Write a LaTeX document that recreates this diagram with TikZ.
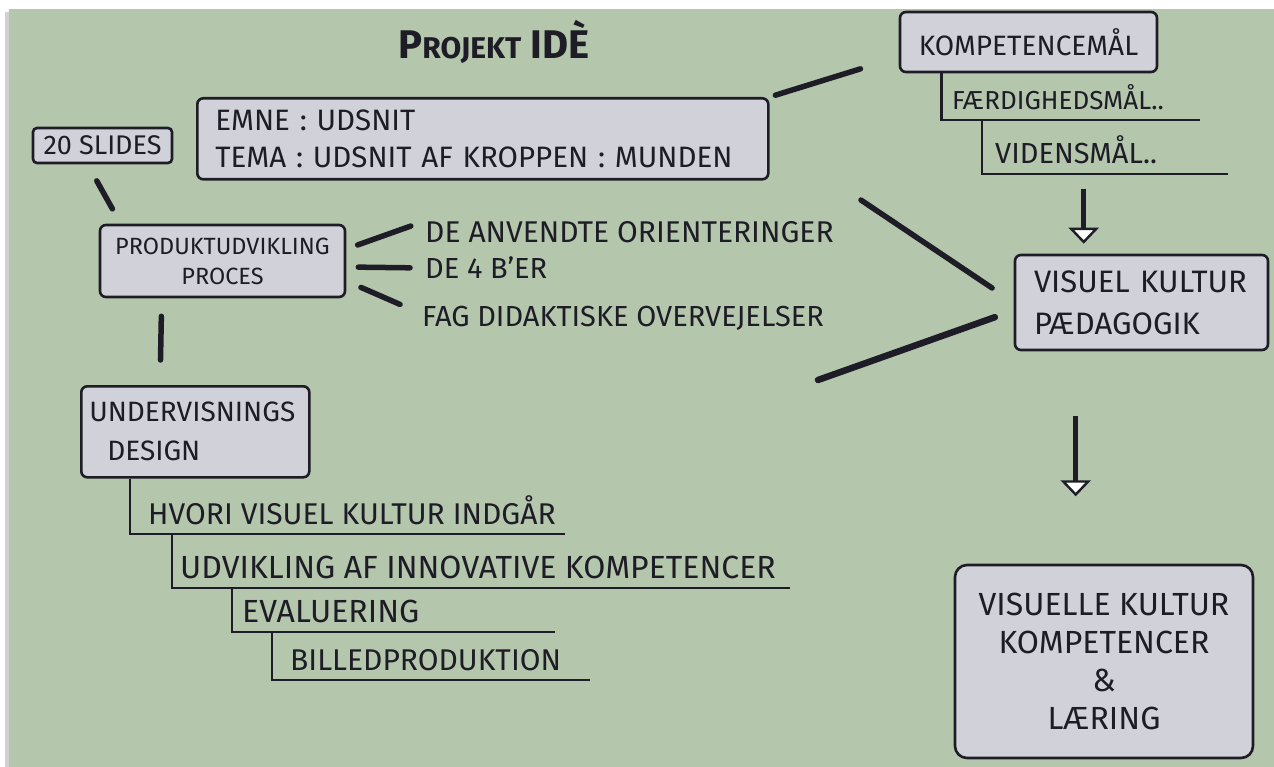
\documentclass[tikz,border=0pt]{standalone}
\usepackage{fontspec}
\setmainfont{Fira Sans}
\usetikzlibrary{arrows.meta}
\definecolor{tavle}{RGB}{180,198,171}
\definecolor{kassegraa}{RGB}{209,209,218}
\definecolor{blaek}{RGB}{30,28,38}
\newcommand{\skrift}{\fontsize{29}{36}\selectfont}
\newcommand{\storskrift}{\fontsize{32}{36}\selectfont}
\tikzset{
  kasse/.style={draw=blaek, fill=kassegraa, line width=2.6pt, rounded corners=6pt,
    text=blaek, font=\skrift},
  tekst/.style={text=blaek, font=\skrift, inner sep=0pt},
  streg/.style={draw=blaek, line width=5.5pt, line cap=round},
  gren/.style={draw=blaek, line width=2.6pt},
  pil/.style={draw=blaek, line width=5pt,
    -{Triangle[width=30pt,length=16pt,fill=white,line width=2.4pt]}}
}

\begin{document}
\begin{tikzpicture}[x=1pt,y=-1pt]
  \useasboundingbox (0,0) rectangle (1274,767);
  % tavlen
  \fill[white] (0,0) rectangle (1274,767);
  \fill[black!18] (5,12) rectangle (9,767);
  \fill[tavle] (9,9) rectangle (1274,767);

  \node[tekst, font=\fontsize{40}{44}\selectfont\bfseries] (titel) at (494,42)
    {P{\fontsize{30}{32}\selectfont ROJEKT} IDÈ};

  % venstre side
  \node[kasse, anchor=north west, minimum width=571pt, minimum height=81pt,
    text width=535pt, inner xsep=18pt, align=left,
    font=\fontsize{29.5}{37}\selectfont] (emne) at (196,97)
    {EMNE : UDSNIT\\TEMA : UDSNIT AF KROPPEN : MUNDEN};
  \node[kasse, minimum width=139pt, minimum height=35pt, inner sep=1pt,
    rounded corners=4pt, font=\fontsize{27}{30}\selectfont] (slides) at (102.5,145.5) {20 SLIDES};
  \node[kasse, minimum width=245pt, minimum height=72pt, inner sep=2pt, align=center,
    font=\fontsize{23.5}{30}\selectfont] (prod) at (222.5,261) {PRODUKTUDVIKLING\\PROCES};

  \node[tekst, anchor=west, font=\fontsize{30}{34}\selectfont] (orient) at (425,232) {DE ANVENDTE ORIENTERINGER};
  \node[tekst, anchor=west] (fireb) at (425,268) {DE 4 B'ER};
  \node[tekst, anchor=west] (fag) at (422,318) {FAG DIDAKTISKE OVERVEJELSER};

  \node[kasse, anchor=north west, minimum width=228pt, minimum height=91pt,
    text width=212pt, inner xsep=8pt, align=left,
    font=\fontsize{28}{39}\selectfont] (underv) at (80,385)
    {UNDERVISNINGS\\\hspace*{18pt}DESIGN};

  \node[tekst, anchor=base west, font=\fontsize{30}{34}\selectfont] (hvori) at (148,524) {HVORI VISUEL KULTUR INDGÅR};
  \node[tekst, anchor=base west, font=\fontsize{32}{36}\selectfont] (udvik) at (180,578) {UDVIKLING AF INNOVATIVE KOMPETENCER};
  \node[tekst, anchor=base west, font=\storskrift] (evalu) at (242,622) {EVALUERING};
  \node[tekst, anchor=base west, font=\fontsize{30}{34}\selectfont] (billed) at (290,670) {BILLEDPRODUKTION};

  % hoejre side
  \node[kasse, minimum width=257pt, minimum height=60pt, font=\fontsize{28}{32}\selectfont] (komp) at (1028.5,42) {KOMPETENCEMÅL};
  \node[tekst, anchor=base west, font=\fontsize{26}{30}\selectfont] (faerd) at (952,110) {FÆRDIGHEDSMÅL..};
  \node[tekst, anchor=base west, font=\fontsize{29}{32}\selectfont] (viden) at (995,164) {VIDENSMÅL..};

  \node[kasse, minimum width=253pt, minimum height=95pt, text width=215pt,
    inner xsep=19pt, align=left, font=\fontsize{31}{42}\selectfont] (vkp) at (1141.5,302.5)
    {VISUEL KULTUR\\PÆDAGOGIK};
  \node[kasse, minimum width=298pt, minimum height=193pt, align=center, rounded corners=12pt,
    font=\fontsize{32}{38}\selectfont] (vkk) at (1104,661.5)
    {VISUELLE KULTUR\\KOMPETENCER\\\&\\LÆRING};

  \coordinate (los) at (818,380);

  % streger
  \draw[streg, shorten <=19pt, shorten >=17pt] ([xshift=-15pt]slides.south) -- ([xshift=22pt]prod.north west);
  \draw[streg, shorten <=12pt, shorten >=15pt] ([yshift=12pt]prod.east) -- ([yshift=11pt]orient.west);
  \draw[streg, shorten <=12pt, shorten >=15pt] ([yshift=-6pt]prod.east) -- (fireb.west);
  \draw[streg, shorten <=16pt, shorten >=24pt] ([yshift=-20pt]prod.east) -- ([yshift=4pt]fag.west);
  \draw[streg, shorten <=18pt, shorten >=25pt] ([xshift=63pt]prod.south west) -- ([xshift=80pt]underv.north west);
  \draw[streg, shorten <=6pt, shorten >=40pt] (emne.north east) -- ([yshift=-15pt]komp.west);
  \draw[streg, shorten <=110pt, shorten >=26pt] (emne.east) -- (vkp.west);
  \draw[streg, line width=6.5pt, shorten >=20pt] (los) -- ([yshift=-8pt]vkp.west);

  % traeer
  \draw[gren] ([xshift=50pt]underv.south west) |- ([xshift=417pt,yshift=-10pt]hvori.base west);
  \draw[gren] ([xshift=24pt,yshift=-10pt]hvori.base west) |- ([xshift=610pt,yshift=-10pt]udvik.base west);
  \draw[gren] ([xshift=52pt,yshift=-10pt]udvik.base west) |- ([xshift=313pt,yshift=-10pt]evalu.base west);
  \draw[gren] ([xshift=30pt,yshift=-10pt]evalu.base west) |- ([xshift=300pt,yshift=-10pt]billed.base west);
  \draw[gren] ([xshift=43pt]komp.south west) |- ([xshift=248pt,yshift=-10pt]faerd.base west);
  \draw[gren] ([xshift=30pt,yshift=-10pt]faerd.base west) |- ([xshift=233pt,yshift=-10pt]viden.base west);

  % pile
  \draw[pil] ([xshift=70pt,yshift=65pt]vkp.north west) -- ([xshift=70pt,yshift=10pt]vkp.north west);
  \draw[pil] ([xshift=62pt,yshift=-65pt]vkp.south west) -- ([xshift=62pt,yshift=-145pt]vkp.south west);
\end{tikzpicture}
\end{document}
